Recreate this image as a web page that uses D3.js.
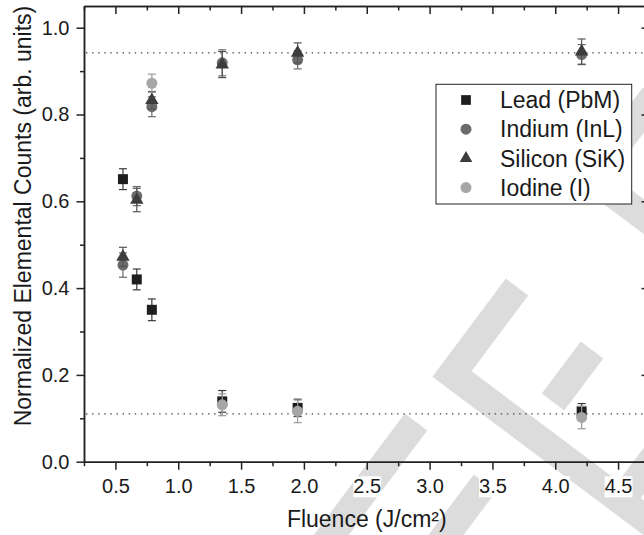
<!DOCTYPE html>
<html>
<head>
<meta charset="utf-8">
<script src="https://cdn.jsdelivr.net/npm/d3@7"></script>
<style>
  body { margin: 0; background: #fff; }
  svg { display: block; font-family: "Liberation Sans", Arial, Helvetica, sans-serif; }
  .axis path, .axis line { stroke: #222; stroke-width: 1.5; }
  .axis text { fill: #1a1a1a; font-size: 20px; }
</style>
</head>
<body>
<svg id="chart" width="644" height="535"></svg>
<script>
// fluence (J/cm2) at which each sample was measured
var fluence = [0.56, 0.67, 0.79, 1.35, 1.95, 4.21];

var lead      = [0.651, 0.420, 0.350, 0.139, 0.124, 0.116];
var leadErr   = [0.024, 0.024, 0.025, 0.025, 0.020, 0.018];
var indium    = [0.453, 0.612, 0.818, 0.919, 0.926, 0.938];
var indiumErr = [0.028, 0.022, 0.023, 0.030, 0.021, 0.023];
var silicon    = [0.472, 0.603, 0.833, 0.915, 0.942, 0.945];
var siliconErr = [0.022, 0.027, 0.020, 0.030, 0.023, 0.029];
var iodine    = [null, null, 0.872, 0.131, 0.116, 0.102];
var iodineErr = [null, null, 0.021, 0.025, 0.026, 0.026];

// dotted guide levels
var refLevels = [0.942, 0.11];

var xMajor = [0.5, 1.0, 1.5, 2.0, 2.5, 3.0, 3.5, 4.0, 4.5];
var xMinor = [0.25, 0.75, 1.25, 1.75, 2.25, 2.75, 3.25, 3.75, 4.25, 4.75];
var yMajor = [0.0, 0.2, 0.4, 0.6, 0.8, 1.0];
var yMinor = [0.1, 0.3, 0.5, 0.7, 0.9];

var series = [
  { name: 'Lead (PbM)',     y: lead,    err: leadErr,    shape: d3.symbolSquare,   size: 100, fill: '#1e1e1e', bar: '#3a3a3a' },
  { name: 'Indium (InL)',   y: indium,  err: indiumErr,  shape: d3.symbolCircle,   size: 95,  fill: '#6b6b6b', bar: '#6b6b6b' },
  { name: 'Silicon (SiK)',  y: silicon, err: siliconErr, shape: d3.symbolTriangle, size: 78,  fill: '#3d3d3d', bar: '#555' },
  { name: 'Iodine (I)',     y: iodine,  err: iodineErr,  shape: d3.symbolCircle,   size: 95,  fill: '#a6a6a6', bar: '#9a9a9a' }
];

var svg = d3.select('#chart');

var x = d3.scaleLinear().domain([0.25, 4.75]).range([84, 649.5]);
var y = d3.scaleLinear().domain([0, 1.05]).range([461.7, 6]);

// light watermark strokes behind everything
var mark = svg.append('g')
  .attr('fill', 'none')
  .attr('stroke', '#dcdcdc')
  .attr('stroke-width', 28)
  .attr('stroke-linejoin', 'miter');
[
  'M654,96 L592,178 L690,251',
  'M517,287 L452,374 L700,560',
  'M592,350 L553,402',
  'M680,423 L621,501',
  'M416,422 L296,582',
  'M485,483 L365,643'
].forEach(function(d) { mark.append('path').attr('d', d); });

// axes: bottom/left outward, top/right inward, no labels on the mirrors
function drawAxis(axis, tx, ty, labels) {
  var g = svg.append('g').attr('class', 'axis')
    .attr('transform', 'translate(' + tx + ',' + ty + ')')
    .call(axis);
  if (!labels) g.selectAll('text').remove();
  return g;
}

var bottom = drawAxis(d3.axisBottom(x).tickValues(xMajor).tickSize(8).tickSizeOuter(0)
  .tickFormat(d3.format('.1f')), 0, y(0), true);
drawAxis(d3.axisBottom(x).tickValues(xMinor).tickSize(4.5).tickSizeOuter(0), 0, y(0), false);
drawAxis(d3.axisBottom(x).tickValues(xMajor).tickSize(8).tickSizeOuter(0), 0, y(1.05), false);
drawAxis(d3.axisBottom(x).tickValues(xMinor).tickSize(4.5).tickSizeOuter(0), 0, y(1.05), false);

var left = drawAxis(d3.axisLeft(y).tickValues(yMajor).tickSize(7.5).tickPadding(7)
  .tickSizeOuter(0).tickFormat(d3.format('.1f')), x(0.25), 0, true);
drawAxis(d3.axisLeft(y).tickValues(yMinor).tickSize(4).tickSizeOuter(0), x(0.25), 0, false);
drawAxis(d3.axisLeft(y).tickValues(yMajor).tickSize(8).tickSizeOuter(0), x(4.75), 0, false);
drawAxis(d3.axisLeft(y).tickValues(yMinor).tickSize(4).tickSizeOuter(0), x(4.75), 0, false);

bottom.selectAll('text').attr('y', 31.6).attr('dy', null);
// x tick labels sit on white patches over the watermark
bottom.selectAll('.tick').each(function() {
  var t = d3.select(this).select('text');
  var b = t.node().getBBox();
  d3.select(this).insert('rect', 'text')
    .attr('x', b.x).attr('y', b.y + 1).attr('width', b.width).attr('height', b.height - 1)
    .attr('fill', '#fff');
});

// dotted guide lines
svg.append('g').selectAll('line')
  .data(refLevels)
  .join('line')
  .attr('x1', x(0.25) + 2).attr('x2', x(4.75))
  .attr('y1', function(d) { return y(d); })
  .attr('y2', function(d) { return y(d); })
  .attr('stroke', '#444')
  .attr('stroke-width', 1.3)
  .attr('stroke-dasharray', '1.4,4.7');

// error bars + symbols, one series at a time
var cap = 4;
series.forEach(function(s) {
  var pts = fluence.map(function(f, i) { return { x: f, y: s.y[i], e: s.err[i] }; })
    .filter(function(p) { return p.y != null; });

  var eb = svg.append('g').attr('stroke', s.bar).attr('stroke-width', 1.2);
  pts.forEach(function(p) {
    var cx = x(p.x), hi = y(p.y + p.e), lo = y(p.y - p.e);
    eb.append('line').attr('x1', cx).attr('x2', cx).attr('y1', hi).attr('y2', lo);
    eb.append('line').attr('x1', cx - cap).attr('x2', cx + cap).attr('y1', hi).attr('y2', hi);
    eb.append('line').attr('x1', cx - cap).attr('x2', cx + cap).attr('y1', lo).attr('y2', lo);
  });

  svg.append('g').selectAll('path')
    .data(pts)
    .join('path')
    .attr('d', d3.symbol().type(s.shape).size(s.size))
    .attr('transform', function(p) { return 'translate(' + x(p.x) + ',' + y(p.y) + ')'; })
    .attr('fill', s.fill);
});

// legend
var legend = svg.append('g').attr('transform', 'translate(436,84.3)');
legend.append('rect')
  .attr('width', 195.7).attr('height', 119.7)
  .attr('fill', '#fff').attr('stroke', '#222').attr('stroke-width', 1);
var rows = legend.selectAll('g.row')
  .data(series)
  .join('g')
  .attr('class', 'row')
  .attr('transform', function(d, i) { return 'translate(0,' + (15.7 + i * 29.2) + ')'; });
rows.append('path')
  .attr('transform', 'translate(30,0)')
  .attr('d', function(d) { return d3.symbol().type(d.shape).size(d.shape === d3.symbolTriangle ? 70 : 95)(); })
  .attr('fill', function(d) { return d.fill; });
rows.append('text')
  .attr('x', 64).attr('dy', '0.36em')
  .attr('font-size', 23).attr('fill', '#1a1a1a')
  .text(function(d) { return d.name; });

// axis titles
svg.append('text')
  .attr('x', (x(0.25) + x(4.75)) / 2).attr('y', 526.7)
  .attr('text-anchor', 'middle').attr('font-size', 23).attr('fill', '#1a1a1a')
  .text('Fluence (J/cm²)');
svg.append('text')
  .attr('transform', 'translate(31,216) rotate(-90)')
  .attr('text-anchor', 'middle').attr('font-size', 23).attr('fill', '#1a1a1a')
  .text('Normalized Elemental Counts (arb. units)');
</script>
</body>
</html>
